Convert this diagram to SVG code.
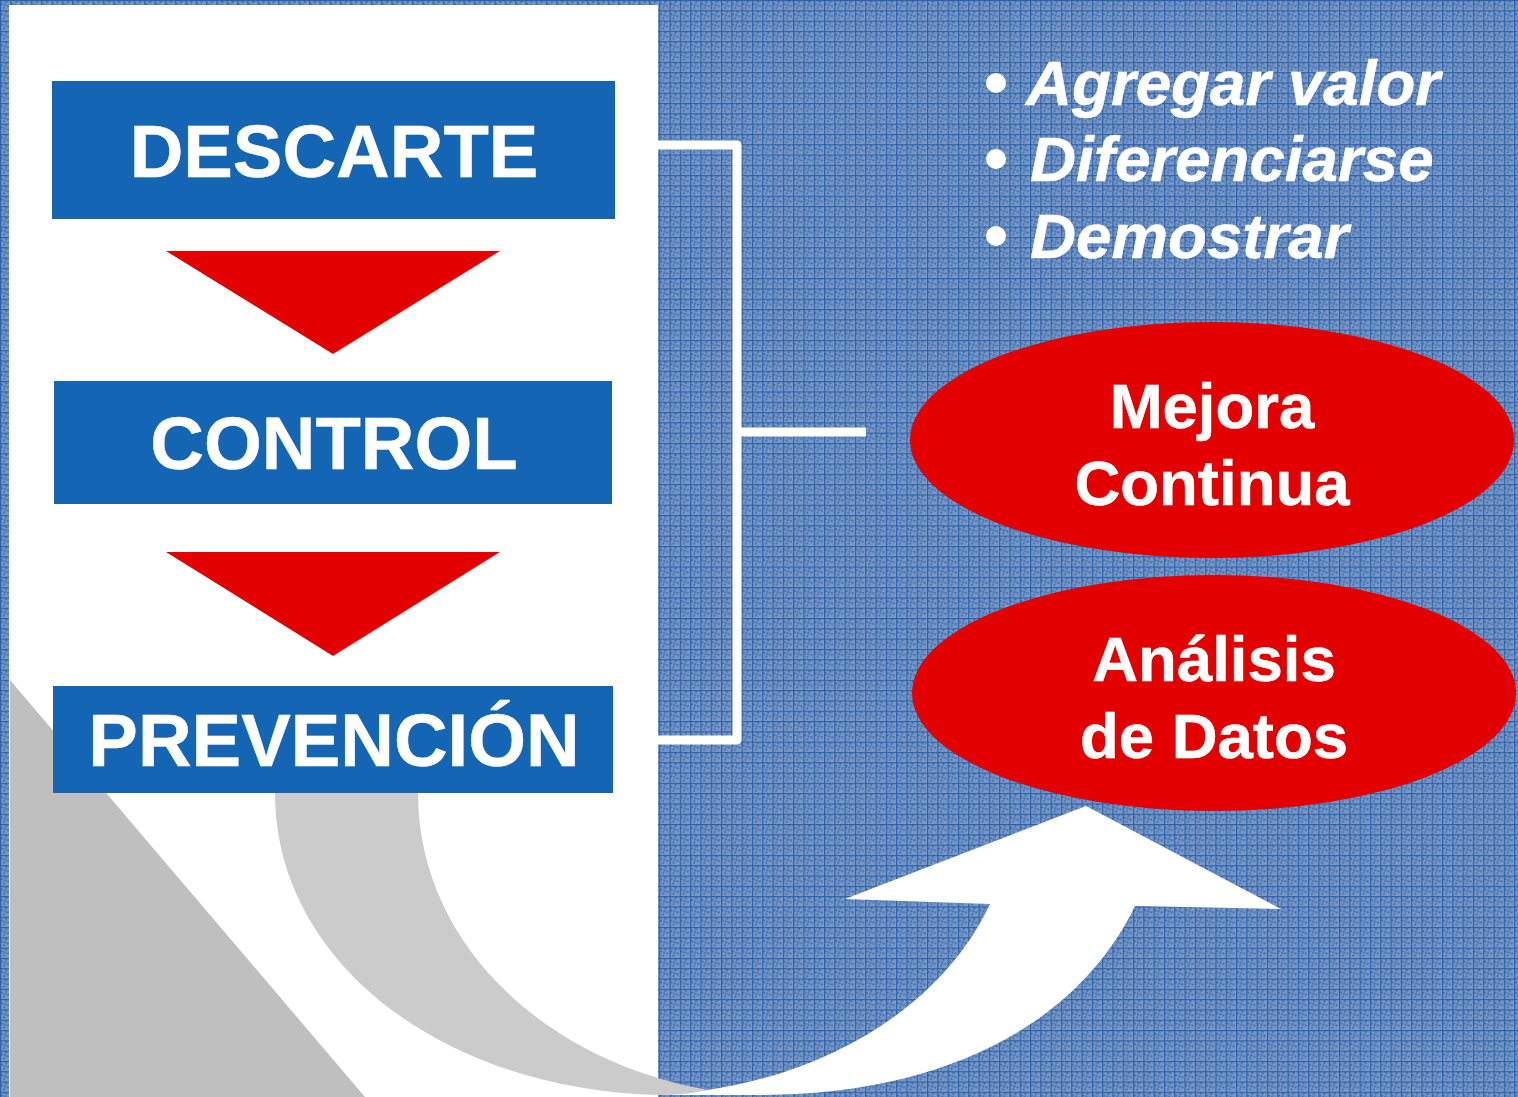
<svg xmlns="http://www.w3.org/2000/svg" width="1518" height="1097" viewBox="0 0 1518 1097">
<style>
.box{fill:#1565b5}
.tri{fill:#e30000}
.ell{fill:#e30000}
.t{font-family:"Liberation Sans",Arial,sans-serif;font-weight:700;fill:#fff;text-anchor:middle;stroke:#fff;stroke-width:.5}
.b{font-size:74.3px}
.e{font-size:63.5px}
.i{font-family:"Liberation Sans",Arial,sans-serif;font-weight:700;font-style:italic;fill:#fff;font-size:63.7px;stroke:#fff;stroke-width:.5}
.c{fill:none;stroke:#fff;stroke-width:9;stroke-linejoin:round}
</style>
<defs>
<pattern id="p" width="10.3" height="10.3" patternUnits="userSpaceOnUse">
<rect width="10.3" height="10.3" fill="#7a98c6"/>
<path d="M1 3h2v2h-2zM5 1h2v2h-2zM7 5h2v2h-2zM3 7h2v2h-2zM4 4h2v2h-2z" fill="#3f6eb0"/>
<path d="M0 0h10.3M0 0v10.3" stroke="#2a62aa" stroke-width="2.4" fill="none"/>
</pattern>
</defs>
<rect id="background" width="1518" height="1097" fill="url(#p)"/>
<g id="panel">
<rect x="9" y="5" width="649" height="1092" fill="#fff"/>
<path d="M10 680L365 1097H10Z" fill="#bfbfbf"/>
</g>
<g id="arrow">
<path d="M658 1095H760C950 1095 1080 1020 1135 906L1281 909L1086 806L845 899L990 904C945 1000 840 1070 708 1090Z" fill="#fff"/>
<path d="M275 793H418C418 940 540 1060 708 1090C690 1094 675 1095 660 1095C440 1090 275 960 275 793Z" fill="#cbcbcb"/>
</g>
<g id="connectors">
<path class="c" d="M658 145H737V740H658M737 432H866"/>
</g>
<g id="descarte">
<rect class="box" x="52" y="81" width="563" height="138"/>
<text class="t b" x="334" y="177">DESCARTE</text>
</g>
<g id="arrow1"><path class="tri" d="M166 251H500L333 354Z"/></g>
<g id="control">
<rect class="box" x="54" y="381" width="558" height="123"/>
<text class="t b" x="334" y="469">CONTROL</text>
</g>
<g id="arrow2"><path class="tri" d="M166 552H500L333 656Z"/></g>
<g id="prevencion">
<rect class="box" x="53" y="686" width="560" height="107"/>
<text class="t b" x="334" y="766">PREVENCIÓN</text>
</g>
<g id="bullets">
<circle cx="996" cy="83" r="10" fill="#fff"/>
<circle cx="996" cy="159" r="10" fill="#fff"/>
<circle cx="996" cy="236" r="10" fill="#fff"/>
<text class="i" x="1026" y="105">Agregar valor</text>
<text class="i" x="1030" y="181">Diferenciarse</text>
<text class="i" x="1030" y="258">Demostrar</text>
</g>
<g id="mejora">
<ellipse class="ell" cx="1212" cy="440" rx="302" ry="118"/>
<text class="t e" x="1212" y="428">Mejora</text>
<text class="t e" x="1212" y="505">Continua</text>
</g>
<g id="analisis">
<ellipse class="ell" cx="1214" cy="693" rx="302" ry="118"/>
<text class="t e" x="1214" y="681">Análisis</text>
<text class="t e" x="1214" y="758">de Datos</text>
</g>
</svg>
